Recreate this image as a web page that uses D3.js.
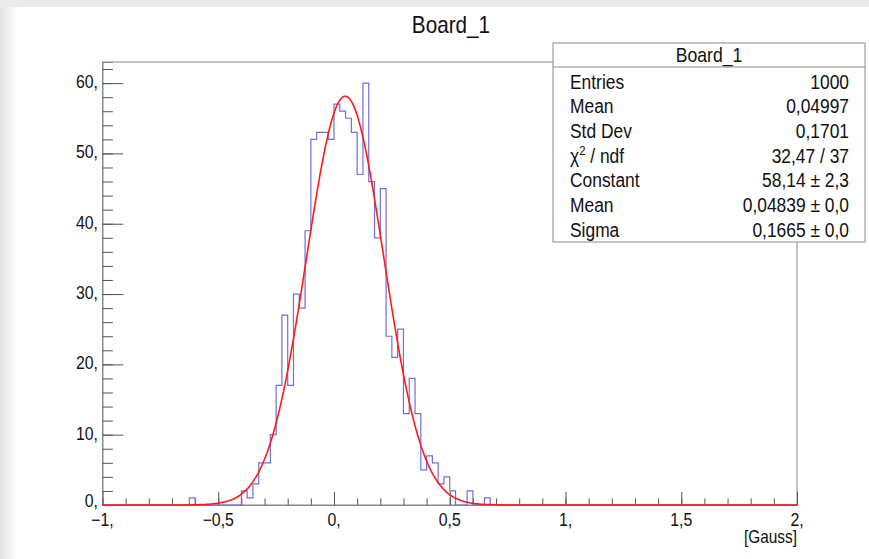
<!DOCTYPE html>
<html>
<head>
<meta charset="utf-8">
<script src="https://cdn.jsdelivr.net/npm/d3@7"></script>
<style>
  html, body { margin: 0; padding: 0; background: #ffffff; }
  svg { display: block; }
  text { font-family: "Liberation Sans", Arial, Helvetica, sans-serif; fill: #111; }
</style>
</head>
<body>
<svg id="chart" width="869" height="559"></svg>
<script>
// ---------------- data ----------------
const chartTitle = "Board_1";
const xAxisTitle = "[Gauss]";
const binStart = -1;
const binWidth = 0.025;
// 120 bins from -1 to 2
const counts = [
  0,0,0,0,0,0,0,0,0,0,          // -1.000 .. -0.775
  0,0,0,0,0,1,0,0,0,0,          // -0.750 .. -0.525
  0,0,0,0,2,1,3,6,6,10,         // -0.500 .. -0.275
  17,27,17,30,28,39,52,53,53,52,// -0.250 .. -0.025
  57,56,55,53,47,60,46,38,45,24,//  0.000 ..  0.225
  21,25,13,18,13,5,7,6,3,4,     //  0.250 ..  0.475
  2,0,0,2,0,0,1,0,0,0,          //  0.500 ..  0.725
  0,0,0,0,0,0,0,0,0,0,
  0,0,0,0,0,0,0,0,0,0,
  0,0,0,0,0,0,0,0,0,0,
  0,0,0,0,0,0,0,0,0,0,
  0,0,0,0,0,0,0,0,0,0
];
const xMajorTicks = [-1, -0.5, 0, 0.5, 1, 1.5, 2];
const xTickLabels = ["\u22121,", "\u22120,5", "0,", "0,5", "1,", "1,5", "2,"];
const yMajorTicks = [0, 10, 20, 30, 40, 50, 60];
const yTickLabels = ["0,", "10,", "20,", "30,", "40,", "50,", "60,"];
const statNames = ["Entries", "Mean", "Std Dev", "CHI", "Constant", "Mean", "Sigma"];
const statValues = ["1000", "0,04997", "0,1701", "32,47 / 37", "58,14 \u00b1 2,3", "0,04839 \u00b1 0,0", "0,1665 \u00b1 0,0"];
// fitted gaussian parameters [constant, mean, sigma]
const fitParams = [58.14, 0.04839, 0.1665];

// ---------------- layout ----------------
const svg = d3.select("#chart");
const frame = { left: 102.5, right: 797, top: 62, bottom: 505 };
const x = d3.scaleLinear().domain([-1, 2]).range([frame.left, frame.right]);
const y = d3.scaleLinear().domain([0, 63]).range([frame.bottom, frame.top]);
const SX = 0.88;

// window decorations
const defs = svg.append("defs");
const lg = defs.append("linearGradient").attr("id", "lgrad").attr("x1", 0).attr("x2", 1).attr("y1", 0).attr("y2", 0);
lg.append("stop").attr("offset", "0%").attr("stop-color", "#e2e2e2");
lg.append("stop").attr("offset", "100%").attr("stop-color", "#ffffff");
svg.append("rect").attr("x", 0).attr("y", 0).attr("width", 18).attr("height", 559).attr("fill", "url(#lgrad)");
svg.append("rect").attr("x", 0).attr("y", 0).attr("width", 869).attr("height", 7).attr("fill", "#ebebeb");

function stext(g, tx, ty, str, size, anchor, sx) {
  return g.append("text")
    .attr("transform", `translate(${tx},${ty}) scale(${sx || SX},1)`)
    .attr("font-size", size)
    .attr("text-anchor", anchor || "start")
    .text(str);
}

// frame
svg.append("rect")
  .attr("x", frame.left).attr("y", frame.top)
  .attr("width", frame.right - frame.left).attr("height", frame.bottom - frame.top)
  .attr("fill", "none").attr("stroke", "#8a8a8a").attr("stroke-width", 1);

// axes (ticks pointing inward)
const xMinor = d3.range(-10, 21).map(d => d / 10);
const yMinor = d3.range(0, 63, 2);
svg.append("g").attr("transform", `translate(0,${frame.bottom})`)
  .call(d3.axisBottom(x).tickValues(xMinor).tickSize(-6.6).tickFormat(""))
  .call(g => g.select(".domain").attr("stroke", "#8a8a8a"))
  .call(g => g.selectAll(".tick line").attr("stroke", "#555"));
svg.append("g").attr("transform", `translate(0,${frame.bottom})`)
  .call(d3.axisBottom(x).tickValues(xMajorTicks).tickSize(-13).tickFormat(""))
  .call(g => g.select(".domain").remove())
  .call(g => g.selectAll(".tick line").attr("stroke", "#555"));
svg.append("g").attr("transform", `translate(${frame.left},0)`)
  .call(d3.axisLeft(y).tickValues(yMinor).tickSize(-10.4).tickFormat(""))
  .call(g => g.select(".domain").attr("stroke", "#8a8a8a"))
  .call(g => g.selectAll(".tick line").attr("stroke", "#555"));
svg.append("g").attr("transform", `translate(${frame.left},0)`)
  .call(d3.axisLeft(y).tickValues(yMajorTicks).tickSize(-20.8).tickFormat(""))
  .call(g => g.select(".domain").remove())
  .call(g => g.selectAll(".tick line").attr("stroke", "#555"));

// tick labels
const labG = svg.append("g");
xMajorTicks.forEach((v, i) => stext(labG, x(v), 526, xTickLabels[i], 18, "middle"));
yMajorTicks.forEach((v, i) => stext(labG, 98, y(v) + (v === 0 ? 2 : 5), yTickLabels[i], 18, "end"));
stext(labG, frame.right, 543, xAxisTitle, 17.5, "end");

// histogram step outline
const pts = [];
counts.forEach((c, i) => {
  const x0 = binStart + i * binWidth, x1 = x0 + binWidth;
  pts.push([x(x0), y(c)]);
  pts.push([x(x1), y(c)]);
});
pts.unshift([x(binStart), y(0)]);
pts.push([x(binStart + counts.length * binWidth), y(0)]);
svg.append("path")
  .attr("d", d3.line()(pts))
  .attr("fill", "none")
  .attr("stroke", "#7070d8")
  .attr("stroke-width", 1.2);

// fit curve
const [C, mu, sg] = fitParams;
const fitX = d3.range(0, 601).map(i => -1 + i * 3 / 600);
svg.append("path")
  .attr("d", d3.line().x(d => x(d)).y(d => y(C * Math.exp(-0.5 * ((d - mu) / sg) ** 2))).curve(d3.curveLinear)(fitX))
  .attr("fill", "none")
  .attr("stroke", "#ff1a1a")
  .attr("stroke-width", 1.6);

// title
stext(svg, 451, 33, chartTitle, 23, "middle", 0.9);

// stats box
const box = { x: 553, y: 43, w: 312, h: 199 };
const sb = svg.append("g");
sb.append("rect").attr("x", box.x).attr("y", box.y).attr("width", box.w).attr("height", box.h)
  .attr("fill", "#ffffff").attr("stroke", "#8a8a8a").attr("stroke-width", 1);
sb.append("line").attr("x1", box.x).attr("x2", box.x + box.w).attr("y1", 67).attr("y2", 67)
  .attr("stroke", "#8a8a8a").attr("stroke-width", 1);
stext(sb, box.x + box.w / 2, 61.5, chartTitle, 20, "middle", 0.88);
statNames.forEach((n, i) => {
  const by = 88.5 + i * 24.7;
  if (n === "CHI") {
    const t = sb.append("text")
      .attr("transform", `translate(570,${by}) scale(0.87,1)`)
      .attr("font-size", 20);
    t.append("tspan").text("\u03c7");
    t.append("tspan").attr("font-size", 13).attr("dy", -8).text("2");
    t.append("tspan").attr("dy", 8).text(" / ndf");
  } else {
    stext(sb, 570, by, n, 20, "start", 0.87);
  }
  stext(sb, 849, by, statValues[i], 20, "end", 0.87);
});
</script>
</body>
</html>
